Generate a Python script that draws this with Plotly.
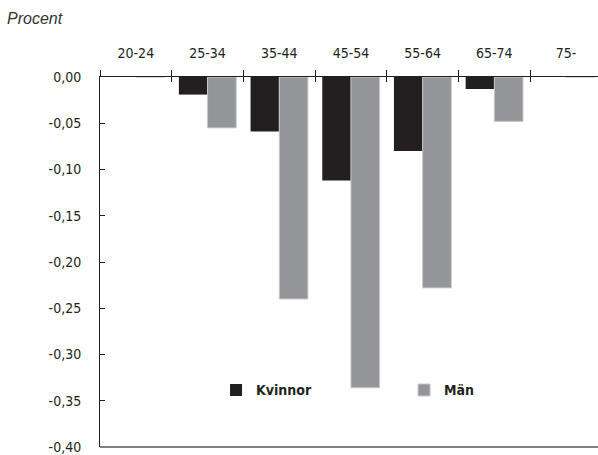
import plotly.graph_objects as go

categories = ["20-24", "25-34", "35-44", "45-54", "55-64", "65-74", "75-"]
kvinnor = [0.0, -0.019, -0.059, -0.112, -0.080, -0.013, 0.0]
man = [0.0, -0.055, -0.240, -0.336, -0.228, -0.048, 0.0]
ytick_vals = [0.0, -0.05, -0.10, -0.15, -0.20, -0.25, -0.30, -0.35, -0.40]
ytick_text = ["0,00", "-0,05", "-0,10", "-0,15", "-0,20", "-0,25", "-0,30", "-0,35", "-0,40"]

FONT = "Liberation Sans Narrow, DejaVu Sans Condensed, Arial Narrow, sans-serif"
DARK = "#231f20"

fig = go.Figure()
fig.add_trace(go.Bar(x=categories, y=kvinnor, name="Kvinnor",
                     marker=dict(color=DARK, line=dict(width=0))))
fig.add_trace(go.Bar(x=categories, y=man, name="Män",
                     marker=dict(color="#939598", line=dict(color="#c8c9cb", width=1))))
# helper trace for the inner half of the crossing tick marks
fig.add_trace(go.Scatter(x=categories, y=[0] * len(categories), xaxis="x2",
                         mode="lines", line=dict(width=0), showlegend=False,
                         hoverinfo="skip"))

fig.update_layout(
    width=598, height=455,
    margin=dict(l=100, r=0, t=77, b=4),
    paper_bgcolor="white", plot_bgcolor="white",
    barmode="group", bargap=0.2, bargroupgap=0,
    font=dict(family=FONT, size=14, color=DARK),
    xaxis=dict(side="top", range=[-0.5, 6.446], showline=True, linecolor=DARK,
               linewidth=1, ticks="outside", ticklen=6, tickcolor=DARK,
               tickson="boundaries", showgrid=False, zeroline=False,
               ticklabelstandoff=12, tickfont=dict(size=14, color=DARK),
               mirror=False),
    xaxis2=dict(overlaying="x", matches="x", side="top", anchor="y",
                ticks="inside", ticklen=5, tickcolor=DARK, tickson="boundaries",
                showticklabels=False, showline=False, showgrid=False, zeroline=False),
    yaxis=dict(range=[-0.40, 0.0], tickvals=ytick_vals, ticktext=ytick_text,
               showline=True, linecolor=DARK, linewidth=1, ticks="inside",
               ticklen=5, tickcolor=DARK, showgrid=False, zeroline=False,
               ticklabelstandoff=15, ticklabeloverflow="allow",
               tickfont=dict(size=14, color=DARK)),
    legend=dict(orientation="h", x=0.233, y=0.153, xanchor="left", yanchor="middle",
                entrywidth=143, font=dict(family=FONT, size=14, color=DARK,
                                          weight="bold"),
                bgcolor="rgba(0,0,0,0)", traceorder="normal"),
    shapes=[dict(type="line", xref="paper", yref="paper", x0=0, x1=1, y0=0, y1=0,
                 layer="above", line=dict(color="#808080", width=2))],
    annotations=[dict(text="<i>Procent</i>", xref="paper", yref="paper",
                      x=-0.191, y=1.159, xanchor="left", yanchor="middle",
                      showarrow=False,
                      font=dict(family="Liberation Sans, Arial, sans-serif", size=16,
                                color="#333333"))],
)

fig.write_html("out.html", config={"displayModeBar": False},
               post_script="document.body.style.margin='0';document.body.style.overflow='hidden';")
